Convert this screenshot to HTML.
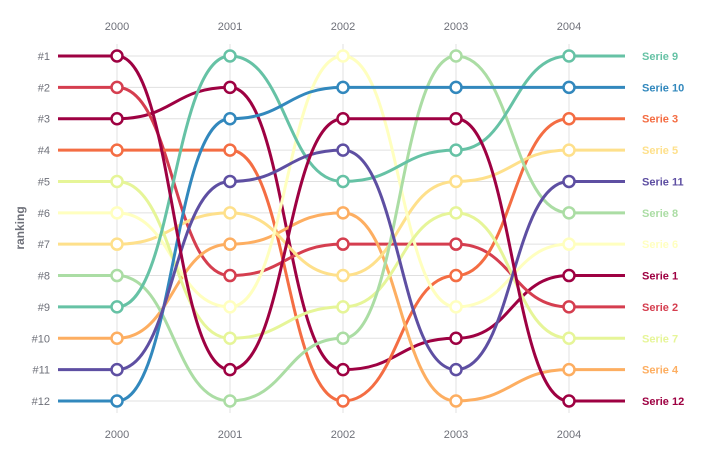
<!DOCTYPE html>
<html><head><meta charset="utf-8">
<style>
html,body{margin:0;padding:0;background:#fff;}
svg{display:block;font-family:"Liberation Sans",sans-serif;}
</style></head>
<body>
<svg id="chart" width="726" height="457" viewBox="0 0 726 457"></svg>
<script>
const years = ['2000','2001','2002','2003','2004'];
const seriesNames = ['Serie 1','Serie 2','Serie 3','Serie 4','Serie 5','Serie 6','Serie 7','Serie 8','Serie 9','Serie 10','Serie 11','Serie 12'];
const rankTicks = ['#1','#2','#3','#4','#5','#6','#7','#8','#9','#10','#11','#12'];
const s1 = [3,2,11,10,8];
const s2 = [2,8,7,7,9];
const s3 = [4,4,12,8,3];
const s4 = [10,7,6,12,11];
const s5 = [7,6,8,5,4];
const s6 = [6,9,1,9,7];
const s7 = [5,10,9,6,10];
const s8 = [8,12,10,1,6];
const s9 = [9,1,5,4,1];
const s10 = [12,3,2,2,2];
const s11 = [11,5,4,11,5];
const s12 = [1,11,3,3,12];
const seriesRanks = [s1,s2,s3,s4,s5,s6,s7,s8,s9,s10,s11,s12];

const colors = ['#9e0142','#d53e4f','#f46d43','#fdae61','#fee08b','#ffffbf','#e6f598','#abdda4','#66c2a5','#3288bd','#5e4fa2','#9e0142'];
const NS='http://www.w3.org/2000/svg';
const svg=document.getElementById('chart');
const x0=117, dxStep=113, left=58, right=625;
const y0=56, dyStep=(401-56)/11;
const xs=i=>x0+i*dxStep;
const ys=r=>y0+(r-1)*dyStep;
function mk(tag,attrs){const e=document.createElementNS(NS,tag);for(const k in attrs)e.setAttribute(k,attrs[k]);svg.appendChild(e);return e;}

// grid
rankTicks.forEach((t,i)=>{
  const g=mk('line',{x1:left,x2:right,y1:ys(i+1),y2:ys(i+1),stroke:'#e0e0e0','stroke-width':1});
  
  
  const l=mk('text',{x:50,y:ys(i+1)+4,'text-anchor':'end','font-size':11,fill:'#6e7079'});
  l.textContent=t;
  
  
});
years.forEach((yr,i)=>{
  const g=mk('line',{x1:xs(i),x2:xs(i),y1:44,y2:413,stroke:'#e0e0e0','stroke-width':1});
  
  
  const t=mk('text',{x:xs(i),y:30,'text-anchor':'middle','font-size':11,fill:'#6e7079'});
  t.textContent=yr;
  
  
  const b=mk('text',{x:xs(i),y:438,'text-anchor':'middle','font-size':11,fill:'#6e7079'});
  b.textContent=yr;
  
  
});
const yt=mk('text',{x:0,y:0,'text-anchor':'middle','font-size':12,'font-weight':'bold',fill:'#6e7079',transform:'translate(24,228) rotate(-90)'});
yt.textContent='ranking';



// series
seriesRanks.forEach((ranks,si)=>{
  let d='M'+left+','+ys(ranks[0])+' L'+xs(0)+','+ys(ranks[0]);
  for(let i=1;i<ranks.length;i++){
    const xa=xs(i-1),xb=xs(i),ya=ys(ranks[i-1]),yb=ys(ranks[i]),h=(xb-xa)*0.5;
    d+=' C'+(xa+h)+','+ya+' '+(xb-h)+','+yb+' '+xb+','+yb;
  }
  d+=' L'+right+','+ys(ranks[ranks.length-1]);
  const p=mk('path',{d:d,fill:'none',stroke:colors[si],'stroke-width':3});
  
  
});
seriesRanks.forEach((ranks,si)=>{
  ranks.forEach((r,i)=>{
    const c=mk('circle',{cx:xs(i),cy:ys(r),r:5.5,fill:'#fff',stroke:colors[si],'stroke-width':2.5});
    
    
  });
  const lab=mk('text',{x:642,y:ys(ranks[ranks.length-1])+4,'font-size':11,'font-weight':'bold',fill:colors[si]});
  lab.textContent=seriesNames[si];
  
  
});
</script>
</body></html>
